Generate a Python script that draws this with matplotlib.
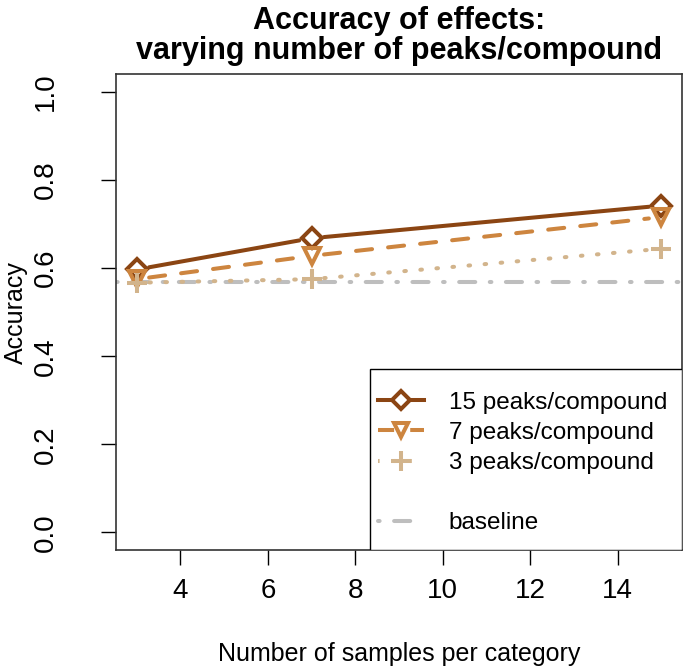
import matplotlib
matplotlib.use("Agg")
import matplotlib.pyplot as plt
from matplotlib.lines import Line2D
from matplotlib.patches import Rectangle

plt.rcParams['font.family'] = ['Liberation Sans', 'DejaVu Sans']

# values
samples = [3, 7, 15]
acc_15 = [0.597, 0.668, 0.742]
acc_7 = [0.575, 0.628, 0.716]
acc_3 = [0.567, 0.575, 0.644]
baseline = 0.569

labels = ["15 peaks/compound", "7 peaks/compound", "3 peaks/compound", "baseline"]
colors = ["#8B4513", "#CD853F", "#D2B48C", "#BEBEBE"]
styles = ["solid", (0, (4, 4)), (0, (0.4, 3.6)), (0, (0.4, 3.6, 4, 3.6))]
markers = ["D", "v", "+"]
lw = 2.9

fig = plt.figure(figsize=(6.85, 6.7), dpi=100)
ax = fig.add_axes([0.169, 0.179, 0.827, 0.710])

ax.axhline(baseline, color=colors[3], lw=lw, ls=styles[3],
           dash_capstyle="round", zorder=1)

series = [acc_15, acc_7, acc_3]
msizes = [10, 11, 15]
for ys, col, ls, mk, ms in zip(series, colors, styles, markers, msizes):
    # type="b" look: segments stop short of the points
    for i in range(len(samples) - 1):
        ax.annotate("", xy=(samples[i + 1], ys[i + 1]), xytext=(samples[i], ys[i]),
                    arrowprops=dict(arrowstyle="-", color=col, lw=lw, linestyle=ls,
                                    shrinkA=9, shrinkB=9, capstyle="round"),
                    zorder=2)
    ax.plot(samples, ys, ls="none", marker=mk, ms=ms, mfc="none", mec=col,
            mew=lw, zorder=3)

ax.set_xlim(2.52, 15.48)
ax.set_ylim(-0.04, 1.04)
ax.set_xticks([4, 6, 8, 10, 12, 14])
ax.set_yticks([0.0, 0.2, 0.4, 0.6, 0.8, 1.0])
ax.set_yticklabels(["0.0", "0.2", "0.4", "0.6", "0.8", "1.0"], rotation=90, va="center")
ax.tick_params(axis="both", labelsize=20, length=11, width=1)
ax.tick_params(axis="x", pad=9)
ax.tick_params(axis="y", pad=30)
for sp in ax.spines.values():
    sp.set_linewidth(1.2)
    sp.set_color("#333333")

ax.set_xlabel("Number of samples per category", fontsize=18)
ax.xaxis.set_label_coords(0.5, -0.219)
ax.xaxis.label.set_va("center")
ax.set_ylabel("Accuracy", fontsize=18)
ax.yaxis.set_label_coords(-0.177, 0.5)
ax.yaxis.label.set_va("center")

ax.set_title("Accuracy of effects:\nvarying number of peaks/compound",
             fontsize=22, fontweight="bold", pad=11, linespacing=1.0)

handles = [
    Line2D([], [], color=colors[0], lw=lw, ls=styles[0], marker=markers[0], ms=9,
           mfc="white", mec=colors[0], mew=lw),
    Line2D([], [], color=colors[1], lw=lw, ls=styles[1], marker=markers[1], ms=10,
           mfc="white", mec=colors[1], mew=lw),
    Line2D([], [], color=colors[2], lw=lw, ls=styles[2], marker=markers[2], ms=14,
           mfc="white", mec=colors[2], mew=lw),
    Line2D([], [], color="none", lw=0),
    Line2D([], [], color=colors[3], lw=lw, ls=styles[3], dash_capstyle="round"),
]
# legend box drawn separately so its padding can match the reference
ax.add_patch(Rectangle((0.449, 0.0), 0.551, 0.380, transform=ax.transAxes,
                       facecolor="white", edgecolor="black", lw=1.0, zorder=4))
leg = ax.legend(handles, [labels[0], labels[1], labels[2], "blank", labels[3]],
                loc="center", bbox_to_anchor=(0.7180, 0.183), borderaxespad=0,
                borderpad=0, fontsize=17.5, frameon=False, handlelength=1.9,
                handletextpad=1.0, labelspacing=0.33)
leg.get_texts()[3].set_color("none")
leg.set_zorder(5)

fig.savefig("out.png", dpi=100)
